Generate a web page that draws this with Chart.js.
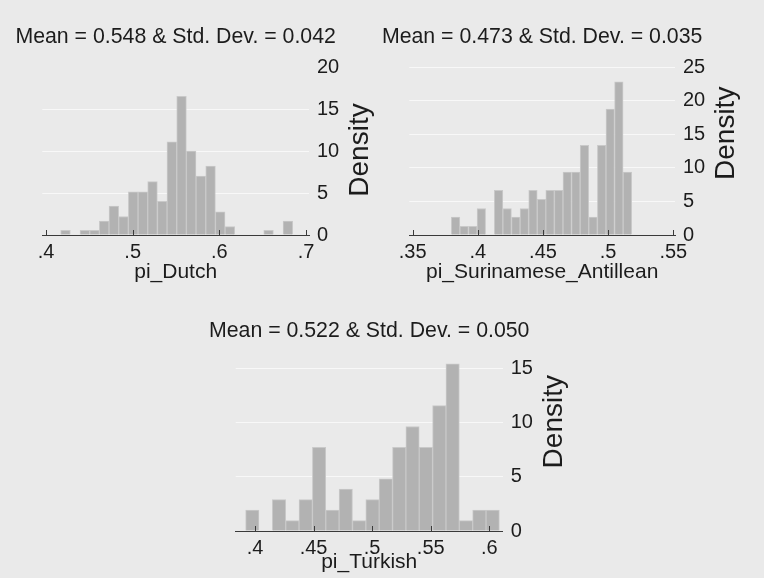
<!DOCTYPE html>
<html>
<head>
<meta charset="utf-8">
<script src="https://cdn.jsdelivr.net/npm/chart.js@4.4.0/dist/chart.umd.min.js"></script>
<style>
html, body { margin: 0; padding: 0; background: #eaeaea; }
#wrap { position: relative; width: 764px; height: 578px; overflow: hidden; background: #eaeaea; }
canvas { position: absolute; left: 0; top: 0; }
</style>
</head>
<body>
<div id="wrap">
  <canvas id="c1" width="764" height="578"></canvas>
  <canvas id="c2" width="764" height="578"></canvas>
  <canvas id="c3" width="764" height="578"></canvas>
</div>
<script>
// ---------- data ----------
const dutchTitle = 'Mean = 0.548 & Std. Dev. = 0.042';
const dutchXTitle = 'pi_Dutch';
const dutchBins = [0.4225,0.4337,0.4448,0.4560,0.4671,0.4783,0.4894,0.5006,0.5118,0.5229,0.5341,0.5452,0.5564,0.5675,0.5787,0.5899,0.6010,0.6122,0.6233,0.6345,0.6456,0.6568,0.6679,0.6791];
const dutchDensity = [0.55,0,0.55,0.55,1.65,3.43,2.2,5.15,5.15,6.35,4.0,11.1,16.5,10.0,7.0,8.2,2.75,1.0,0,0,0,0.55,0,1.65];
const dutchXTicks = [0.4,0.5,0.6,0.7];
const dutchYTicks = [0,5,10,15,20];

const surTitle = 'Mean = 0.473 & Std. Dev. = 0.035';
const surXTitle = 'pi_Surinamese_Antillean';
const surBins = [0.3829,0.3895,0.3961,0.4027,0.4093,0.4159,0.4225,0.4291,0.4357,0.4423,0.4489,0.4554,0.4620,0.4686,0.4752,0.4818,0.4884,0.4950,0.5016,0.5082,0.5148];
const surDensity = [2.65,1.3,1.3,3.95,0,6.65,3.95,2.65,3.95,6.65,5.3,6.65,6.65,9.35,9.35,13.35,2.65,13.35,18.75,22.8,9.35];
const surXTicks = [0.35,0.4,0.45,0.5,0.55];
const surYTicks = [0,5,10,15,20,25];

const turTitle = 'Mean = 0.522 & Std. Dev. = 0.050';
const turXTitle = 'pi_Turkish';
const turBins = [0.3977,0.4091,0.4205,0.4319,0.4433,0.4547,0.4661,0.4775,0.4889,0.5003,0.5117,0.5231,0.5345,0.5459,0.5573,0.5687,0.5801,0.5915,0.6029];
const turDensity = [1.93,0,2.89,0.96,2.89,7.72,1.93,3.86,0.96,2.89,4.82,7.72,9.65,7.72,11.58,15.44,0.96,1.93,1.93];
const turXTicks = [0.4,0.45,0.5,0.55,0.6];
const turYTicks = [0,5,10,15];

const yTitle = 'Density';

// ---------- style ----------
const FONT = '"Liberation Sans", Arial, Helvetica, sans-serif';
const TEXT = '#1c1c1c';
const AXIS = '#3a3a3a';
const BAR = '#b2b2b2';
const BAR_EDGE = '#c9c9c9';
const GRID = '#f8f8f8';
const W = 764, H = 578, YW = 60;

Chart.defaults.font.family = FONT;

const fmt = v => String(+Number(v).toFixed(3)).replace(/^0\./, '.');

// draws Stata-style inward tick marks, panel title and rotated y title
const decorPlugin = {
  id: 'decor',
  afterDatasetsDraw(chart, args, o) {
    const ctx = chart.ctx, a = chart.chartArea, s = chart.scales.x;
    ctx.save();
    ctx.strokeStyle = AXIS;
    ctx.lineWidth = 1;
    ctx.beginPath();
    s.ticks.forEach(t => {
      const px = Math.round(s.getPixelForValue(t.value)) + 0.5;
      ctx.moveTo(px, a.bottom);
      ctx.lineTo(px, a.bottom - 5);
    });
    ctx.stroke();
    ctx.restore();
  },
  afterDraw(chart, args, o) {
    const ctx = chart.ctx, a = chart.chartArea;
    ctx.save();
    ctx.fillStyle = TEXT;
    ctx.font = '21.3px ' + FONT;
    ctx.textAlign = 'center';
    ctx.textBaseline = 'middle';
    ctx.fillText(o.title, (a.left + a.right) / 2, o.titleMid);
    ctx.font = '28px ' + FONT;
    ctx.textBaseline = 'alphabetic';
    ctx.translate(a.right + o.yTitleDx, o.yTitleCy);
    ctx.rotate(-Math.PI / 2);
    ctx.fillText(o.yTitle, 0, 0);
    ctx.restore();
  }
};

function makePanel(id, bins, dens, xTicks, yTicks, title, xTitle, cfg) {
  const ar = cfg.area;
  return new Chart(document.getElementById(id), {
    type: 'bar',
    data: {
      datasets: [{
        data: bins.map((b, i) => ({ x: b, y: dens[i] })),
        backgroundColor: BAR,
        borderColor: BAR_EDGE,
        borderWidth: 1,
        barPercentage: 1,
        categoryPercentage: 1
      }]
    },
    options: {
      responsive: false,
      animation: false,
      devicePixelRatio: 1,
      events: [],
      layout: {
        padding: {
          left: ar.left,
          right: W - ar.right - YW,
          top: ar.top,
          bottom: H - ar.bottom - cfg.xH
        }
      },
      plugins: {
        legend: { display: false },
        tooltip: { enabled: false },
        title: { display: false },
        decor: {
          title: title,
          titleMid: cfg.titleMid,
          yTitle: yTitle,
          yTitleDx: cfg.yTitleDx,
          yTitleCy: cfg.yTitleCy
        }
      },
      scales: {
        x: {
          type: 'linear',
          min: cfg.xMin,
          max: cfg.xMax,
          offset: false,
          grid: { display: true, drawOnChartArea: false, drawTicks: false, offset: false },
          border: { display: true, color: AXIS, width: 1, z: 1 },
          ticks: { padding: 5, color: TEXT, font: { size: 20 }, maxRotation: 0, autoSkip: false, callback: v => fmt(v) },
          afterBuildTicks: s => { s.ticks = xTicks.map(v => ({ value: v })); },
          afterFit: s => { s.height = cfg.xH; },
          title: { display: true, text: xTitle, color: TEXT, font: { size: 21 }, padding: 0 }
        },
        y: {
          type: 'linear',
          position: 'right',
          min: 0,
          max: cfg.yMax,
          grid: {
            drawTicks: false,
            lineWidth: 1,
            color: c => (c.tick.value === 0 || (cfg.hideTopGrid && c.tick.value === cfg.yMax)) ? 'rgba(0,0,0,0)' : GRID
          },
          border: { display: false },
          ticks: { padding: 8, color: TEXT, font: { size: 20 }, callback: v => fmt(v) },
          afterBuildTicks: s => { s.ticks = yTicks.map(v => ({ value: v })); },
          afterFit: s => { s.width = YW; }
        }
      }
    },
    plugins: [decorPlugin]
  });
}

makePanel('c1', dutchBins, dutchDensity, dutchXTicks, dutchYTicks, dutchTitle, dutchXTitle, {
  area: { left: 42.3, right: 309, top: 67, bottom: 235 },
  xMin: 0.39573, xMax: 0.70346, yMax: 20, hideTopGrid: true,
  xH: 50.1, titleMid: 37.5, yTitleDx: 59.3, yTitleCy: 150
});

makePanel('c2', surBins, surDensity, surXTicks, surYTicks, surTitle, surXTitle, {
  area: { left: 409.3, right: 675, top: 67, bottom: 235 },
  xMin: 0.34739, xMax: 0.5513, yMax: 25, hideTopGrid: false,
  xH: 50.1, titleMid: 37, yTitleDx: 59.3, yTitleCy: 133.3
});

makePanel('c3', turBins, turDensity, turXTicks, turYTicks, turTitle, turXTitle, {
  area: { left: 235.7, right: 502.7, top: 362, bottom: 531 },
  xMin: 0.38353, xMax: 0.61144, yMax: 15.6, hideTopGrid: false,
  xH: 44.1, titleMid: 331.2, yTitleDx: 59, yTitleCy: 421.7
});
</script>
</body>
</html>
